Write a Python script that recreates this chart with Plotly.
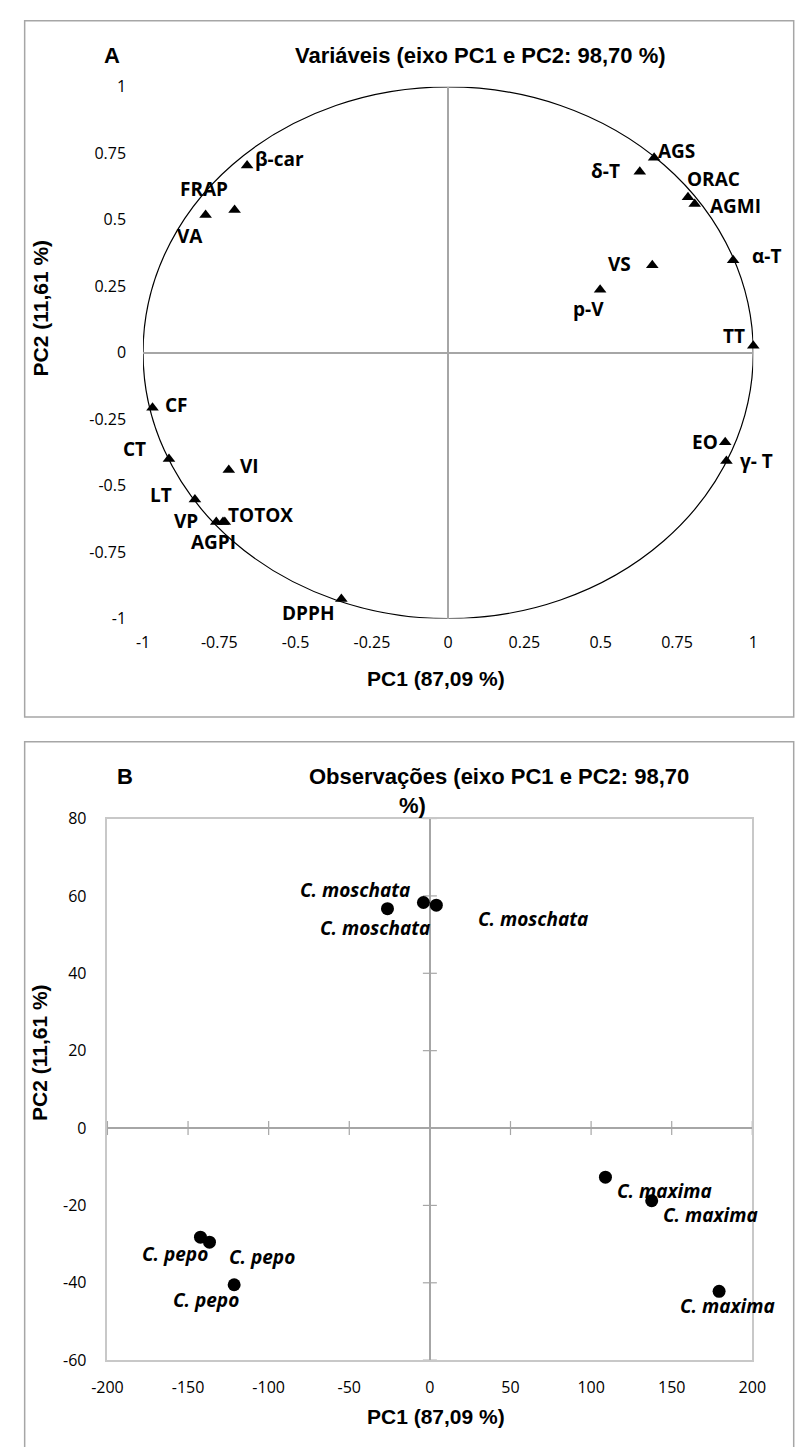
import plotly.graph_objects as go

W, H = 800, 1447

# ---------------- Panel A: variables (correlation circle) ----------------
var_names = ["β-car", "FRAP", "VA", "AGS", "δ-T", "ORAC", "AGMI", "α-T", "VS", "p-V",
             "TT", "EO", "γ- T", "CF", "CT", "VI", "LT", "VP", "TOTOX", "AGPI", "DPPH"]
var_pc1 = [-0.659, -0.795, -0.700, 0.675, 0.628, 0.786, 0.808, 0.934, 0.669, 0.498,
           1.000, 0.908, 0.912, -0.969, -0.915, -0.719, -0.830, -0.760, -0.732, -0.738, -0.350]
var_pc2 = [0.704, 0.518, 0.537, 0.733, 0.681, 0.585, 0.559, 0.348, 0.329, 0.237,
           0.026, -0.337, -0.407, -0.207, -0.400, -0.441, -0.552, -0.637, -0.637, -0.637, -0.926]

a_tickvals = [-1, -0.75, -0.5, -0.25, 0, 0.25, 0.5, 0.75, 1]
a_ticktext = ["-1", "-0.75", "-0.5", "-0.25", "0", "0.25", "0.5", "0.75", "1"]

# ---------------- Panel B: observations ----------------
obs_names = ["C. moschata", "C. moschata", "C. moschata",
             "C. maxima", "C. maxima", "C. maxima",
             "C. pepo", "C. pepo", "C. pepo"]
obs_pc1 = [-26.3, -4.0, 4.0, 108.9, 137.6, 179.4, -142.3, -136.7, -121.4]
obs_pc2 = [56.7, 58.3, 57.6, -12.7, -18.8, -42.2, -28.2, -29.5, -40.5]

b_xtickvals = [-200, -150, -100, -50, 0, 50, 100, 150, 200]
b_xticktext = ["-200", "-150", "-100", "-50", "0", "50", "100", "150", "200"]
b_ytickvals = [-60, -40, -20, 0, 20, 40, 60, 80]
b_yticktext = ["-60", "-40", "-20", "0", "20", "40", "60", "80"]

# label placement styles (anchor, x shift px, y shift px)
var_label_style = {
    "β-car": ("left", 6, 7), "FRAP": ("center", -2, 26), "VA": ("center", -45, -26),
    "AGS": ("left", 2, 7), "δ-T": ("right", -18, 1), "ORAC": ("left", -3, 18),
    "AGMI": ("left", 13, -2), "α-T": ("left", 17, 4), "VS": ("right", -19, 1),
    "p-V": ("center", -12, -19), "TT": ("right", -6, 10), "EO": ("right", -5, 0),
    "γ- T": ("left", 12, 0), "CF": ("left", 10, 3), "CT": ("right", -21, 10),
    "VI": ("left", 9, 4), "LT": ("right", -21, 4), "VP": ("right", -16, 1),
    "TOTOX": ("left", 1, 7), "AGPI": ("center", -9, -20), "DPPH": ("right", -5, -14),
}
obs_label_style = [("center", -12, -19), ("right", -11, 12), ("left", 40, -14),
                   ("left", 10, -14), ("left", 9, -14), ("center", 8, -15),
                   ("right", 10, -17), ("left", 18, -15), ("center", -28, -15)]


def px_x(p):
    return p / W


def px_y(p):
    return 1 - p / H


BOX = "#a6a6a6"
AXIS = "#a6a6a6"
TICKFONT = dict(family="Open Sans", size=16, color="#000000")
TITLEFONT = dict(family="Liberation Sans", size=22, color="#000000")
AXTITLEFONT = dict(family="Liberation Sans", size=21, color="#000000")
LBLFONT = dict(family="Open Sans", size=19, color="#000000")

fig = go.Figure()

# Panel A markers
fig.add_trace(go.Scatter(
    x=var_pc1, y=var_pc2, mode="markers", xaxis="x", yaxis="y",
    marker=dict(symbol="triangle-up", size=11, color="#000000"),
    cliponaxis=False, hoverinfo="skip"))

# Panel B cross tick marks on the zero axes
fig.add_trace(go.Scatter(
    x=[0] * len(b_ytickvals), y=b_ytickvals, mode="markers", xaxis="x2", yaxis="y2",
    marker=dict(symbol="line-ew", size=10, line=dict(width=1.2, color=AXIS)),
    cliponaxis=False, hoverinfo="skip"))
fig.add_trace(go.Scatter(
    x=b_xtickvals, y=[0] * len(b_xtickvals), mode="markers", xaxis="x2", yaxis="y2",
    marker=dict(symbol="line-ns", size=10, line=dict(width=1.2, color=AXIS)),
    cliponaxis=False, hoverinfo="skip"))

# Panel B markers
fig.add_trace(go.Scatter(
    x=obs_pc1, y=obs_pc2, mode="markers", xaxis="x2", yaxis="y2",
    marker=dict(symbol="circle", size=13, color="#000000"),
    cliponaxis=False, hoverinfo="skip"))

annotations = []
for n, x, y in zip(var_names, var_pc1, var_pc2):
    anc, dx, dy = var_label_style[n]
    annotations.append(dict(x=x, y=y, xref="x", yref="y", text="<b>%s</b>" % n,
                            showarrow=False, xanchor=anc, yanchor="middle",
                            xshift=dx, yshift=dy, font=LBLFONT))
for n, x, y, st in zip(obs_names, obs_pc1, obs_pc2, obs_label_style):
    anc, dx, dy = st
    annotations.append(dict(x=x, y=y, xref="x2", yref="y2", text="<b><i>%s</i></b>" % n,
                            showarrow=False, xanchor=anc, yanchor="middle",
                            xshift=dx, yshift=dy, font=LBLFONT))

# Titles and axis titles
def ann(text, x, y, font, xanchor="center", angle=0):
    annotations.append(dict(x=px_x(x), y=px_y(y), xref="paper", yref="paper", text=text,
                            showarrow=False, xanchor=xanchor, yanchor="middle",
                            font=font, textangle=angle))

ann("<b>A</b>", 100, 45, TITLEFONT)
ann("<b>Variáveis (eixo PC1 e PC2: 98,70 %)</b>", 483, 45, TITLEFONT)
ann("<b>PC1 (87,09 %)</b>", 436, 678, AXTITLEFONT)
ann("<b>PC2 (11,61 %)</b>", 25, 302, AXTITLEFONT, angle=-90)

ann("<b>B</b>", 113, 777, TITLEFONT)
ann("<b>Observações (eixo PC1 e PC2: 98,70</b>", 302, 777, TITLEFONT, xanchor="left")
ann("<b>%)</b>", 412, 807, TITLEFONT)
ann("<b>PC1 (87,09 %)</b>", 436, 1427, AXTITLEFONT)
ann("<b>PC2 (11,61 %)</b>", 25, 1058, AXTITLEFONT, angle=-90)

shapes = [
    # outer panel boxes
    dict(type="rect", xref="paper", yref="paper", x0=px_x(9), x1=1.01,
         y0=px_y(717), y1=px_y(10), line=dict(color=BOX, width=1.5)),
    dict(type="rect", xref="paper", yref="paper", x0=px_x(9), x1=1.01,
         y0=-0.02, y1=px_y(742), line=dict(color=BOX, width=1.5)),
    # unit correlation circle
    dict(type="circle", xref="x", yref="y", x0=-1, y0=-1, x1=1, y1=1,
         line=dict(color="#000000", width=1.2), layer="below"),
]

fig.update_layout(
    width=W, height=H, margin=dict(l=0, r=0, t=0, b=0),
    paper_bgcolor="#ffffff", plot_bgcolor="#ffffff", showlegend=False,
    annotations=annotations, shapes=shapes,
    xaxis=dict(domain=[px_x(132), px_x(766)], range=[-1, 1], anchor="y",
               showgrid=False, showline=False, zeroline=True, zerolinecolor=AXIS,
               zerolinewidth=1.5, tickvals=a_tickvals, ticktext=a_ticktext,
               tickfont=TICKFONT, ticks="", ticklabelstandoff=12, fixedrange=True),
    yaxis=dict(domain=[px_y(617), px_y(77)], range=[-1, 1], anchor="x",
               showgrid=False, showline=False, zeroline=True, zerolinecolor=AXIS,
               zerolinewidth=1.5, tickvals=a_tickvals, ticktext=a_ticktext,
               tickfont=TICKFONT, ticks="", ticklabelstandoff=16, fixedrange=True),
    xaxis2=dict(domain=[px_x(95), px_x(765)], range=[-200, 200], anchor="y2",
                showgrid=False, showline=True, mirror=True, linecolor="#c8c8c8",
                linewidth=1.5, zeroline=True, zerolinecolor=AXIS, zerolinewidth=1.5,
                tickvals=b_xtickvals, ticktext=b_xticktext, tickfont=TICKFONT,
                ticks="", ticklabelstandoff=12, fixedrange=True),
    yaxis2=dict(domain=[px_y(1370), px_y(820)], range=[-60, 80], anchor="x2",
                showgrid=False, showline=True, mirror=True, linecolor="#c8c8c8",
                linewidth=1.5, zeroline=True, zerolinecolor=AXIS, zerolinewidth=1.5,
                tickvals=b_ytickvals, ticktext=b_yticktext, tickfont=TICKFONT,
                ticks="", ticklabelstandoff=16, fixedrange=True),
)

fig.write_html("out.html", config={"displayModeBar": False},
               post_script="document.body.style.margin='0';")
